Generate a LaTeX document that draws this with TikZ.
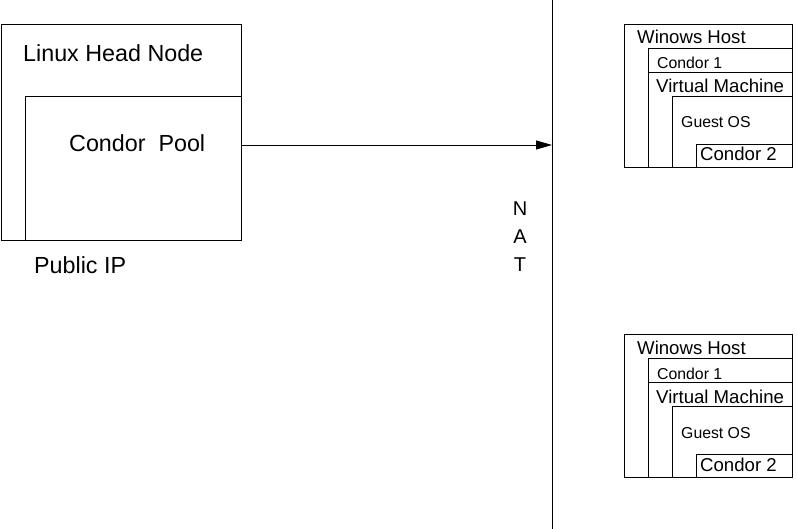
\documentclass[tikz,border=0pt]{standalone}
\usepackage{fontspec}
\setmainfont{Liberation Sans}
\usetikzlibrary{arrows.meta,positioning}
\begin{document}
\begin{tikzpicture}[x=1pt, y=-1pt,
    box/.style={draw, line width=0.8pt, inner sep=0pt, anchor=north west},
    lbl/.style={inner sep=0pt, anchor=base west},
    big/.style={font=\fontsize{23.3}{26}\selectfont},
    mid/.style={font=\fontsize{18.6}{20}\selectfont},
    small/.style={font=\fontsize{15.8}{18}\selectfont}]
      \useasboundingbox (0,0) rectangle (797,529);

      % head node side
      \node [box, minimum width=240pt, minimum height=216pt] (head) at (0.5,24) {};
      \node [box, minimum width=216pt, minimum height=144pt] (pool) at (24.5,96) {};
      \node [lbl, big] (headlbl) at (23,62) {Linux Head Node};
      \node [lbl, big] (poollbl) at (69,152) {Condor\ \ Pool};
      \node [lbl, big] (iplbl) at (34,273) {Public IP};

      % NAT
      \coordinate (nattop) at (552,0);
      \coordinate (natbot) at (552,529);
      \coordinate (natin) at (552,145);
      \draw [line width=0.8pt] (nattop) -- (natbot);
      \node [align=center, inner sep=0pt, font=\fontsize{20}{28}\selectfont] (nat) at (520,237) {N\\A\\T};
      \draw [-{Triangle[length=16pt,width=9pt]}, line width=0.8pt] (pool.east |- natin) -- (natin);

      % first windows host
      \begin{scope}[name prefix=a-]
      \node [box, minimum width=168pt, minimum height=143pt] (host) at (624,24) {};
      \node [box, minimum width=144pt, minimum height=119pt] (c1) at (648,48) {};
      \node [box, minimum width=144pt, minimum height=95pt] (vm) at (648,72) {};
      \node [box, minimum width=120pt, minimum height=71pt] (guest) at (672,96) {};
      \node [box, minimum width=96pt, minimum height=23pt] (c2) at (696,144) {};
      \node [lbl, mid] (hostlbl) at (637,44) {Winows Host};
      \node [lbl, small] (c1lbl) at (657,69) {Condor 1};
      \node [lbl, mid] (vmlbl) at (656,93) {Virtual Machine};
      \node [lbl, small] (guestlbl) at (681,128) {Guest OS};
      \node [lbl, mid] (c2lbl) at (700,161) {Condor 2};
      \end{scope}

      % second windows host
      \begin{scope}[name prefix=b-, shift={(0,310)}]
      \node [box, minimum width=168pt, minimum height=143pt] (host) at (624,24) {};
      \node [box, minimum width=144pt, minimum height=119pt] (c1) at (648,48) {};
      \node [box, minimum width=144pt, minimum height=95pt] (vm) at (648,72) {};
      \node [box, minimum width=120pt, minimum height=71pt] (guest) at (672,96) {};
      \node [box, minimum width=96pt, minimum height=23pt] (c2) at (696,144) {};
      \node [lbl, mid] (hostlbl) at (637,44) {Winows Host};
      \node [lbl, small] (c1lbl) at (657,69) {Condor 1};
      \node [lbl, mid] (vmlbl) at (656,93) {Virtual Machine};
      \node [lbl, small] (guestlbl) at (681,128) {Guest OS};
      \node [lbl, mid] (c2lbl) at (700,161) {Condor 2};
      \end{scope}
  \end{tikzpicture}
\end{document}
